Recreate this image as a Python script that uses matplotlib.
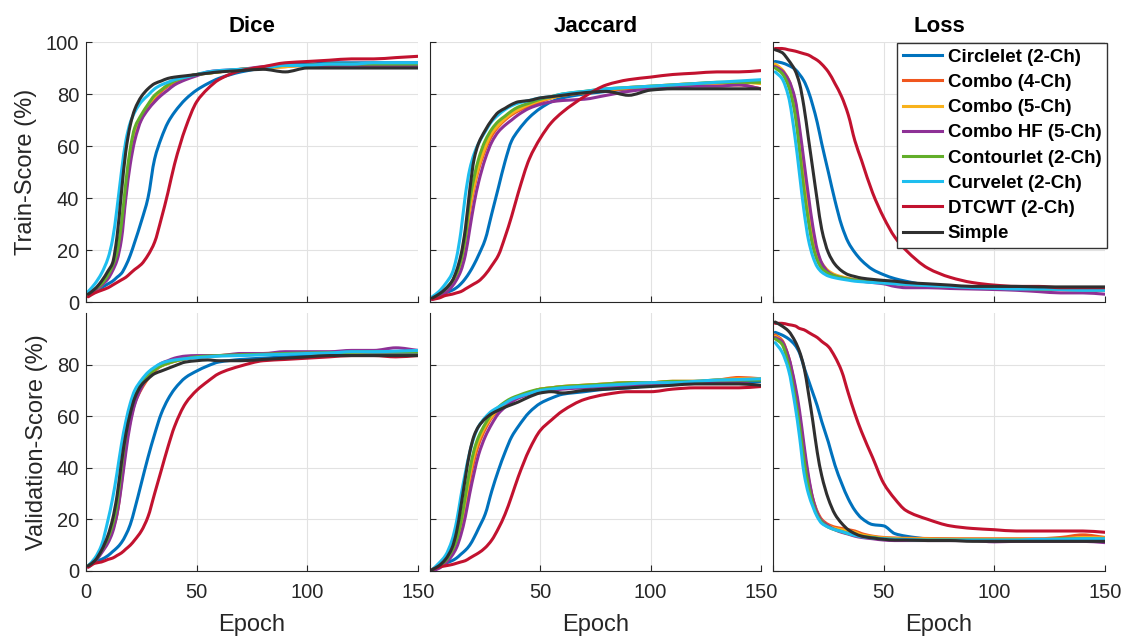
import matplotlib
matplotlib.use('Agg')
import matplotlib.pyplot as plt
import numpy as np
from matplotlib.path import Path
from matplotlib.patches import PathPatch
from matplotlib.lines import Line2D

plt.rcParams['font.family'] = ['Liberation Sans', 'DejaVu Sans']

EPOCHS = [1, 4, 7, 10, 12, 14, 16, 18, 20, 22, 25, 28, 31, 34, 37, 40, 45, 50, 55, 60,
          70, 80, 90, 100, 110, 120, 130, 140, 150]

METHODS = ['Circlelet (2-Ch)', 'Combo (4-Ch)', 'Combo (5-Ch)', 'Combo HF (5-Ch)',
           'Contourlet (2-Ch)', 'Curvelet (2-Ch)', 'DTCWT (2-Ch)', 'Simple']
COLORS = ['#0072BD', '#F0561E', '#F8B21C', '#8E3196', '#62AE2A', '#1EBEEF', '#C2122F', '#2F2F2F']

DICE_TRAIN = {
    'Circlelet (2-Ch)': [3, 4, 5.5, 7, 8, 9.5, 11, 14, 18, 23, 31, 40, 55, 63, 69, 73, 78, 81.5, 84, 86, 88.5, 90, 91.5, 91.5, 92, 92, 92, 92, 92],
    'Combo (4-Ch)': [3, 4.5, 6.5, 10, 13, 17, 27, 42, 56, 64, 70.5, 75, 78.5, 81, 83, 84.5, 86.5, 87.5, 88, 88.5, 89.5, 90, 90.5, 91, 91, 91, 91, 91, 91],
    'Combo (5-Ch)': [3, 4.5, 6.5, 10, 13.5, 18, 28, 43, 57, 65, 71, 75.5, 79, 81.5, 83.5, 85, 86.5, 87.5, 88, 88.5, 89.5, 90, 90.5, 91, 91, 91, 91, 91, 91.5],
    'Combo HF (5-Ch)': [3, 4.5, 6.5, 9, 12, 16, 24, 40, 53, 62, 70, 74, 77, 79.5, 81.5, 83.5, 85.5, 87, 88.5, 89, 89.5, 90.5, 91, 91, 91, 91, 91, 91, 91],
    'Contourlet (2-Ch)': [3, 5, 7, 10.5, 14, 19, 30, 46, 59, 67, 72, 76, 79.5, 81.5, 83.5, 85, 86.5, 87.5, 88, 88.5, 89.5, 90, 91, 91, 91.5, 91.5, 91.5, 91.5, 91.5],
    'Curvelet (2-Ch)': [4, 7, 11, 17, 24, 36, 50, 62, 69, 73, 77, 79.5, 82, 83.5, 84.5, 85.5, 86.5, 87.5, 88.5, 89, 89.5, 90, 91, 91, 91.5, 91.5, 92, 92, 92],
    'DTCWT (2-Ch)': [2, 3.5, 4.5, 5.5, 6.5, 7.5, 8.5, 9.5, 11, 12.5, 14.5, 18, 23, 32, 42, 53, 67, 77, 82, 85.5, 89, 90.5, 92, 92.5, 93, 93.5, 93.5, 94, 94.5],
    'Simple': [3, 5, 8, 12, 15, 25, 42, 58, 68, 74, 79, 82, 84, 85, 86, 86.5, 87, 87.5, 88, 88.5, 89, 89.5, 88.5, 90, 90, 90, 90, 90, 90],
}

JACCARD_TRAIN = {
    'Circlelet (2-Ch)': [1.5, 2.5, 3.5, 4.5, 5.5, 7, 9, 11.5, 14.5, 18, 24, 34, 44, 54, 62, 66, 71, 74.5, 77, 78.5, 80, 81, 82, 82.5, 83, 83.5, 84, 84.5, 84.5],
    'Combo (4-Ch)': [1.5, 3, 5, 7.5, 10, 14, 22, 35, 44, 51, 58.5, 64, 67.5, 70, 72, 73.5, 75.5, 77, 78.5, 79.5, 80.5, 81.5, 82, 82.5, 83, 83.5, 83.5, 83.5, 82],
    'Combo (5-Ch)': [1.5, 3, 5, 7.5, 10.5, 15, 23, 36, 45, 52, 59.5, 65, 68, 70.5, 72.5, 74, 76, 77.5, 78.5, 79.5, 80.5, 81.5, 82.5, 83, 83.5, 84, 84, 84.5, 84],
    'Combo HF (5-Ch)': [1, 2, 3.5, 6, 8.5, 12, 18, 28, 38, 46, 55, 61.5, 65.5, 68, 70, 72, 74.5, 76, 77, 77.5, 78, 79.5, 81, 82, 82.5, 83, 83, 83.5, 82],
    'Contourlet (2-Ch)': [1.5, 3, 5, 8, 11, 16, 25, 39, 48, 55, 62, 66.5, 69.5, 71.5, 73.5, 75, 76.5, 78, 79, 80, 81, 82, 82.5, 83, 83.5, 84, 84.5, 84.5, 84.5],
    'Curvelet (2-Ch)': [2, 4, 7, 11, 17, 27, 41, 51, 57, 61, 65.5, 69.5, 72, 74, 75.5, 76.5, 77.5, 78.5, 79, 80, 81, 82, 82.5, 83, 83.5, 84, 84.5, 85, 85.5],
    'DTCWT (2-Ch)': [1, 1.5, 2.5, 3, 3.5, 4, 5, 6, 7, 8, 10.5, 14, 18, 25, 33, 42, 55, 63, 69, 73, 79, 83.5, 85.5, 86.5, 87.5, 88, 88.5, 88.5, 89],
    'Simple': [1.5, 3, 5, 8, 12, 18, 28, 43, 55, 61, 66, 70, 73, 74.5, 76, 77, 77.5, 78.5, 79, 79.5, 80.5, 81, 79.5, 81.5, 82, 82, 82, 82, 82],
}

LOSS_TRAIN = {
    'Circlelet (2-Ch)': [92.5, 92, 91, 89.5, 87.5, 85, 81, 75.5, 69, 61, 50, 39, 29.5, 23, 19, 16, 12.5, 10.5, 9, 8, 6.5, 6, 5.5, 5.5, 5, 5, 5, 5, 5],
    'Combo (4-Ch)': [91, 89, 85, 76, 64, 50, 37, 26, 18.5, 14.5, 11.5, 10.2, 9.5, 9, 8.5, 8.2, 7.8, 7.5, 7.2, 7, 6.5, 6, 5.7, 5.4, 5.2, 5, 4.8, 4.7, 4.5],
    'Combo (5-Ch)': [91.5, 89.5, 85.5, 77, 65, 51, 38, 27, 19, 15, 12, 10.5, 9.7, 9.1, 8.6, 8.3, 7.9, 7.5, 7.2, 7, 6.5, 6, 5.7, 5.4, 5.2, 5, 4.8, 4.7, 4.5],
    'Combo HF (5-Ch)': [90.5, 89, 85.5, 78, 67, 54, 41, 29, 20, 15, 11.5, 10, 9.3, 8.8, 8.4, 8, 7.5, 7, 6, 5.5, 5.5, 5.2, 5, 4.8, 4.5, 4, 3.5, 3.5, 3],
    'Contourlet (2-Ch)': [90, 88, 83, 72, 58, 43, 31, 21.5, 16, 13, 11, 10, 9.3, 8.8, 8.4, 8.1, 7.7, 7.4, 7.1, 6.8, 6.4, 6, 5.7, 5.4, 5.2, 5, 4.8, 4.7, 4.6],
    'Curvelet (2-Ch)': [88.5, 86, 79, 63, 49, 35, 24, 17.5, 13.5, 11.5, 10, 9.3, 8.8, 8.4, 8, 7.8, 7.5, 7.3, 7, 6.8, 6.3, 6, 5.5, 5.3, 5, 5, 4.8, 4.5, 4.5],
    'DTCWT (2-Ch)': [97.5, 97.5, 97, 96.5, 96, 95.5, 95, 94, 93, 91.5, 88.5, 84, 79, 72, 62, 54.5, 42, 32.5, 25, 20, 13, 9.5, 7.5, 6.5, 6, 6, 5.5, 5.5, 5.5],
    'Simple': [97, 96, 93, 89, 84, 75, 63, 51, 39, 28, 19, 14.5, 12, 10.5, 9.8, 9.2, 8.7, 8.3, 8, 7.5, 7, 6.5, 6, 6, 6, 5.8, 5.8, 5.8, 5.8],
}

DICE_VAL = {
    'Circlelet (2-Ch)': [2, 3.5, 4.5, 6, 7.5, 9, 11, 14, 18, 24, 34, 44, 53, 61, 66.5, 70.5, 75, 77.5, 79.5, 81, 82, 82.5, 83, 83.5, 84, 84, 84.5, 84.5, 84.5],
    'Combo (4-Ch)': [2, 4, 7.5, 12, 16, 22, 34, 48, 58, 65, 70.5, 74.5, 77.5, 79.5, 80.5, 81.3, 82.3, 83, 83.3, 83.5, 83.8, 84, 84.3, 84.5, 84.6, 84.8, 85, 85, 85],
    'Combo (5-Ch)': [2, 4, 7.5, 12.5, 17, 24, 36, 50, 60, 66, 71.5, 75, 78, 79.5, 80.5, 81.3, 82.3, 83, 83.3, 83.5, 83.8, 84, 84.3, 84.5, 84.6, 84.8, 85, 85, 85],
    'Combo HF (5-Ch)': [1.5, 3.5, 7, 11, 15, 22, 33, 46, 57, 64.5, 71, 75.5, 78.5, 80.5, 81.5, 82.5, 83.3, 83.5, 83.5, 83.5, 84.3, 84.3, 85, 85, 85, 85.5, 85.5, 86.5, 85.5],
    'Contourlet (2-Ch)': [2, 4, 8, 13, 18, 26, 40, 53, 62, 68, 73, 76, 78, 79.5, 80.5, 81.3, 82.3, 83, 83.3, 83.5, 83.8, 84, 84.3, 84.5, 84.6, 84.8, 85, 85, 85],
    'Curvelet (2-Ch)': [2, 5, 10, 20, 28, 38, 49, 58, 65, 70, 74, 77, 79, 80.5, 81.3, 81.8, 82.3, 82.7, 83, 83.3, 83.5, 83.8, 84, 84.3, 84.5, 85, 85, 85.2, 85.5],
    'DTCWT (2-Ch)': [1.5, 3, 3.5, 4.5, 5, 6, 7, 8.5, 10, 12, 15.5, 21, 30, 39, 48, 56, 65, 70, 73.5, 76.5, 79.5, 81.5, 82, 82.5, 83, 83.5, 83.5, 83, 83.5],
    'Simple': [2, 4, 8, 14, 20, 29, 42, 53, 61, 67, 72, 74.5, 76.5, 77.5, 78.5, 79.5, 81, 81.5, 81.8, 81.5, 81.5, 82, 82.5, 83, 83.5, 83.5, 83.5, 83.5, 83.5],
}

JACCARD_VAL = {
    'Circlelet (2-Ch)': [0.5, 2, 3, 4, 5, 6.5, 8, 10, 13, 16.5, 22, 31, 39, 46, 52, 56, 61.5, 65, 67, 68.5, 69.5, 70.5, 71, 72, 72.5, 73, 73, 73, 73.5],
    'Combo (4-Ch)': [0.5, 2, 4, 7.5, 11, 16, 25, 35, 43, 49, 55, 59.5, 62.5, 64.5, 66.5, 67.5, 69, 70.5, 71, 71.5, 72, 72.5, 73, 73, 73.5, 73.5, 74, 75, 74.5],
    'Combo (5-Ch)': [0.5, 2, 4, 7.5, 11.5, 17, 27, 37, 45, 50.5, 56, 60, 63, 65, 66.5, 67.5, 69, 70.5, 71, 71.5, 72, 72.5, 73, 73, 73.5, 73.5, 74, 74.5, 74.5],
    'Combo HF (5-Ch)': [0, 1, 3, 6, 9, 14, 21, 30, 38, 45, 52, 57, 61, 63.5, 65.5, 67, 68.5, 69.5, 70, 70.5, 71, 71.5, 72, 72.5, 72.5, 73, 73, 73, 71.5],
    'Contourlet (2-Ch)': [0.5, 2, 4, 8, 12, 19, 29, 39, 47, 52, 57, 61, 63.5, 65.5, 67, 68, 69.5, 70.5, 71, 71.5, 72, 72.5, 73, 73, 73.5, 73.5, 74, 74, 74],
    'Curvelet (2-Ch)': [0.5, 3, 6, 12, 19, 29, 38, 46, 52, 56, 59.5, 62, 63.5, 65, 66.5, 67.5, 68.8, 70, 70.5, 71, 71.5, 72, 72.5, 73, 73, 73.5, 74, 74.2, 74.5],
    'DTCWT (2-Ch)': [0.5, 1.5, 2, 2.5, 3, 3.5, 4, 5, 6, 7, 9, 12, 16.5, 22, 29, 36.5, 47, 54.5, 58.5, 62, 66.5, 68.5, 69.5, 69.5, 70.5, 71, 71, 71, 71.5],
    'Simple': [0.5, 2, 4.5, 9, 15, 25, 36, 46, 52.5, 56, 59, 61, 62.3, 63.5, 64.5, 65.5, 67.5, 69, 69.5, 69, 70, 70.5, 71, 71.5, 72, 72.5, 72.5, 72.5, 72],
}

LOSS_VAL = {
    'Circlelet (2-Ch)': [92.5, 91.5, 90, 87.5, 84.5, 79, 74, 69, 64, 58, 50, 41, 34, 28, 23.5, 20.5, 18, 17.5, 14.5, 13.5, 12.5, 12.3, 12, 12, 12, 12, 12, 12.5, 12.5],
    'Combo (4-Ch)': [91.5, 89.5, 83, 71, 60, 47, 36, 28, 23, 20, 18, 17, 16.5, 16, 15.5, 14.5, 13.5, 13, 12.8, 12.7, 12.6, 12.5, 12.5, 12.5, 12.5, 12.5, 13, 14, 13],
    'Combo (5-Ch)': [91, 89, 82, 70, 59, 46, 35, 27.5, 22.5, 19.5, 17.5, 16.5, 16, 15.5, 15, 14, 13.3, 12.8, 12.6, 12.5, 12.4, 12.3, 12.3, 12.3, 12.3, 12.3, 12.5, 13, 12.8],
    'Combo HF (5-Ch)': [90.5, 89, 83, 72, 62, 49, 37, 28, 22.5, 19.5, 17.5, 16, 15, 14.3, 13.5, 13, 12.5, 12, 11.8, 11.8, 11.8, 11.8, 11.8, 11.3, 11.5, 11.5, 11.5, 11.5, 11],
    'Contourlet (2-Ch)': [90, 88, 80, 67, 56, 43, 33, 26, 21.5, 19, 17, 16, 15.3, 14.5, 14, 13.5, 13, 12.5, 12.3, 12.2, 12, 12, 12, 12, 12, 12, 12.5, 12.5, 12.5],
    'Curvelet (2-Ch)': [88.5, 85, 78, 64, 52, 38, 30, 25, 21, 18.5, 17, 16, 15.3, 14.5, 13.8, 13.3, 12.8, 12.5, 12.3, 12.2, 12, 12, 12, 12, 12, 12.3, 12.3, 12.5, 12.5],
    'DTCWT (2-Ch)': [96, 96, 95.5, 95, 94, 93.5, 92.5, 91.5, 90.5, 89, 87, 83, 77.5, 69, 61, 54, 44, 34, 28, 23.5, 20, 17.5, 16.5, 16, 15.5, 15.5, 15.5, 15.5, 15],
    'Simple': [96.5, 95, 93, 89, 85, 79, 69, 58, 46, 37, 28, 22, 18.5, 16, 14.5, 13.5, 12.8, 12.3, 12, 12, 11.8, 11.8, 11.5, 11.5, 11.5, 11.5, 11.5, 11.5, 11.5],
}

TITLES = ['Dice', 'Jaccard', 'Loss']
YLABELS = ['Train-Score (%)', 'Validation-Score (%)']
XTICKS = [0, 50, 100, 150]


def smooth_path(x, y):
    """Monotone cubic (Hermite) through the read points, expressed as Bezier segments."""
    x = np.asarray(x, float)
    y = np.asarray(y, float)
    h = np.diff(x)
    d = np.diff(y) / h
    n = len(x)
    m = np.zeros(n)
    m[0], m[-1] = d[0], d[-1]
    for k in range(1, n - 1):
        if d[k - 1] * d[k] <= 0:
            m[k] = 0.0
        else:
            w1 = 2 * h[k] + h[k - 1]
            w2 = h[k] + 2 * h[k - 1]
            m[k] = (w1 + w2) / (w1 / d[k - 1] + w2 / d[k])
    verts = [(x[0], y[0])]
    codes = [Path.MOVETO]
    for i in range(n - 1):
        verts += [(x[i] + h[i] / 3, y[i] + m[i] * h[i] / 3),
                  (x[i + 1] - h[i] / 3, y[i + 1] - m[i + 1] * h[i] / 3),
                  (x[i + 1], y[i + 1])]
        codes += [Path.CURVE4] * 3
    return Path(verts, codes)


W, H = 1128, 637
fig = plt.figure(figsize=(W / 100, H / 100), dpi=100)
col_px = [(86, 332), (430, 331), (773, 332)]
row_px = [(42, 260), (313, 258)]
grid_data = [[DICE_TRAIN, JACCARD_TRAIN, LOSS_TRAIN], [DICE_VAL, JACCARD_VAL, LOSS_VAL]]
TXT = '#262626'
LW = 2.2

axes = {}
for r, (y0, h) in enumerate(row_px):
    for c, (x0, w) in enumerate(col_px):
        ax = fig.add_axes([x0 / W, 1 - (y0 + h) / H, w / W, h / H])
        axes[(r, c)] = ax
        data = grid_data[r][c]
        for name, color in zip(METHODS, COLORS):
            ax.add_patch(PathPatch(smooth_path(EPOCHS, data[name]), fill=False,
                                   edgecolor=color, lw=LW, joinstyle='round',
                                   capstyle='round'))
        ax.set_xlim(0, 150)
        ax.set_ylim(0, 100)
        ax.set_xticks(XTICKS)
        ax.set_yticks([0, 20, 40, 60, 80, 100] if r == 0 else [0, 20, 40, 60, 80])
        ax.grid(True, color='#e2e2e2', lw=0.8)
        ax.set_axisbelow(True)
        for s in ['top', 'right']:
            ax.spines[s].set_visible(False)
        for s in ['left', 'bottom']:
            ax.spines[s].set_color(TXT)
            ax.spines[s].set_linewidth(0.8)
        ax.tick_params(direction='in', length=4, width=0.8, colors=TXT,
                       labelsize=14.5)
        ax.tick_params(axis='x', pad=9)
        ax.tick_params(axis='y', pad=5)
        if r == 0:
            ax.set_xticklabels([])
        else:
            if c == 0:
                ax.set_xticklabels([str(t) for t in XTICKS])
            else:
                ax.set_xticklabels([''] + [str(t) for t in XTICKS[1:]])
            ax.set_xlabel('Epoch', fontsize=17, color=TXT, labelpad=8)
        if c == 0:
            ax.set_ylabel(YLABELS[r], fontsize=17, color=TXT, labelpad=6)
        else:
            ax.set_yticklabels([])
        if r == 0:
            fig.text((x0 + w / 2) / W, 1 - 31.5 / H, TITLES[c], ha='center',
                     va='baseline', fontsize=16, fontweight='bold', color='black')

handles = [Line2D([], [], color=col, lw=LW) for col in COLORS]
leg = axes[(0, 2)].legend(handles, METHODS, loc='upper right',
                          bbox_to_anchor=(1.006, 0.996),
                          borderaxespad=0, prop={'weight': 'bold', 'size': 13.5},
                          handlelength=2.1, handletextpad=0.3, labelspacing=0.43,
                          borderpad=0.3, frameon=True, fancybox=False,
                          edgecolor='#333333', framealpha=1)
leg.get_frame().set_linewidth(1.0)

fig.savefig('out.png', dpi=100)
